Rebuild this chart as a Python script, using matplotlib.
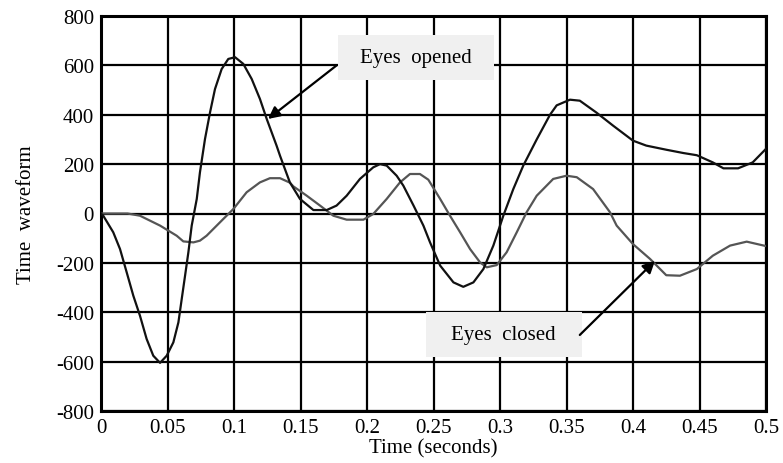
import matplotlib
matplotlib.use("Agg")
import matplotlib.pyplot as plt
from matplotlib.patches import Rectangle

plt.rcParams['font.family'] = ['Liberation Serif', 'DejaVu Serif']

# ---- data ----
opened_t = [0, 0.0017, 0.0092, 0.0143, 0.0193, 0.0243, 0.0293, 0.0343, 0.0393, 0.0444,
            0.0494, 0.0544, 0.0582, 0.0607, 0.0632, 0.0657, 0.0682, 0.072, 0.0744, 0.0782,
            0.082, 0.0857, 0.0907, 0.0957, 0.1008, 0.107, 0.1133, 0.1195, 0.1246, 0.132,
            0.1346, 0.142, 0.1496, 0.1597, 0.1697, 0.1771, 0.1847, 0.1947, 0.2047, 0.2098,
            0.2148, 0.2223, 0.2273, 0.235, 0.2424, 0.2474, 0.255, 0.265, 0.2724, 0.28,
            0.2875, 0.295, 0.3025, 0.31, 0.3175, 0.3276, 0.3376, 0.3426, 0.3526, 0.36,
            0.3727, 0.385, 0.4, 0.41, 0.4253, 0.4378, 0.448, 0.46, 0.468, 0.479,
            0.49, 0.5]
opened_v = [0, -9, -76, -144, -238, -333, -414, -508, -576, -605,
            -576, -522, -441, -346, -252, -157, -49, 59, 167, 302,
            410, 504, 585, 626, 633, 606, 545, 464, 383, 275,
            234, 126, 59, 14, 14, 32, 72, 140, 187, 200,
            194, 153, 113, 32, -49, -117, -211, -279, -297, -279,
            -225, -130, -9, 99, 194, 300, 400, 438, 461, 457,
            408, 356, 295, 275, 258, 245, 236, 207, 183, 183,
            207, 262]

closed_t = [0, 0.02, 0.0293, 0.0444, 0.0569, 0.0619, 0.0695, 0.0744, 0.0794, 0.092,
            0.0995, 0.1095, 0.1195, 0.127, 0.1346, 0.142, 0.1446, 0.1547, 0.1647, 0.1747,
            0.1847, 0.1973, 0.2047, 0.2148, 0.2248, 0.2323, 0.2398, 0.2461, 0.255, 0.2624,
            0.27, 0.2775, 0.285, 0.29, 0.2975, 0.305, 0.3126, 0.32, 0.3276, 0.34,
            0.35, 0.3577, 0.37, 0.3827, 0.3877, 0.4, 0.4128, 0.425, 0.4353, 0.448,
            0.46, 0.473, 0.4855, 0.5]
closed_v = [0, 0, -9, -49, -90, -113, -117, -110, -90, -22,
            18, 86, 126, 143, 143, 125, 110, 72, 32, -9,
            -25, -25, -2, 59, 126, 160, 160, 137, 59, -9,
            -76, -144, -198, -218, -209, -157, -76, 5, 72, 140,
            153, 147, 99, 5, -49, -124, -184, -250, -252, -225,
            -171, -130, -114, -132]

x_ticks = [0, 0.05, 0.1, 0.15, 0.2, 0.25, 0.3, 0.35, 0.4, 0.45, 0.5]
x_labels = ['0', '0.05', '0.1', '0.15', '0.2', '0.25', '0.3', '0.35', '0.4', '0.45', '0.5']
y_ticks = [-800, -600, -400, -200, 0, 200, 400, 600, 800]
y_labels = ['-800', '-600', '-400', '-200', '0', '200', '400', '600', '800']

fig = plt.figure(figsize=(7.83, 4.64), dpi=100)
ax = fig.add_axes([101/783, 1 - 412/464, (766-101)/783, (412-17)/464])

ax.plot(closed_t, closed_v, color='#555555', lw=1.6, zorder=3)
ax.plot(opened_t, opened_v, color='#111111', lw=1.6, zorder=4)

ax.set_xlim(0, 0.5)
ax.set_ylim(-800, 800)
ax.set_xticks(x_ticks)
ax.set_xticklabels(x_labels)
ax.set_yticks(y_ticks)
ax.set_yticklabels(y_labels)
ax.tick_params(length=0, labelsize=15, pad=5)
ax.grid(True, color='black', lw=1.6)
ax.set_axisbelow(True)
for s in ax.spines.values():
    s.set_linewidth(2.2)
ax.set_xlabel('Time (seconds)', fontsize=15, labelpad=1)
ax.set_ylabel('Time  waveform', fontsize=15, labelpad=14)

# annotation boxes
def label_box(cx, cy, w, h, text):
    ax.add_patch(Rectangle((cx - w/2, cy - h/2), w, h, facecolor='#f0f0f0',
                           edgecolor='none', zorder=5))
    ax.text(cx, cy, text, ha='center', va='center', fontsize=15, zorder=6)

label_box(0.2368, 632, 0.1173, 182, 'Eyes  opened')
label_box(0.3028, -490, 0.1173, 182, 'Eyes  closed')

ax.annotate('', xy=(0.1256, 383), xytext=(0.1774, 601),
            arrowprops=dict(arrowstyle='-|>', color='black', lw=1.6,
                            mutation_scale=18, shrinkA=0, shrinkB=0), zorder=7)
ax.annotate('', xy=(0.4165, -192), xytext=(0.360, -492),
            arrowprops=dict(arrowstyle='-|>', color='black', lw=1.6,
                            mutation_scale=18, shrinkA=0, shrinkB=0), zorder=7)

fig.savefig('out.png', dpi=100)
